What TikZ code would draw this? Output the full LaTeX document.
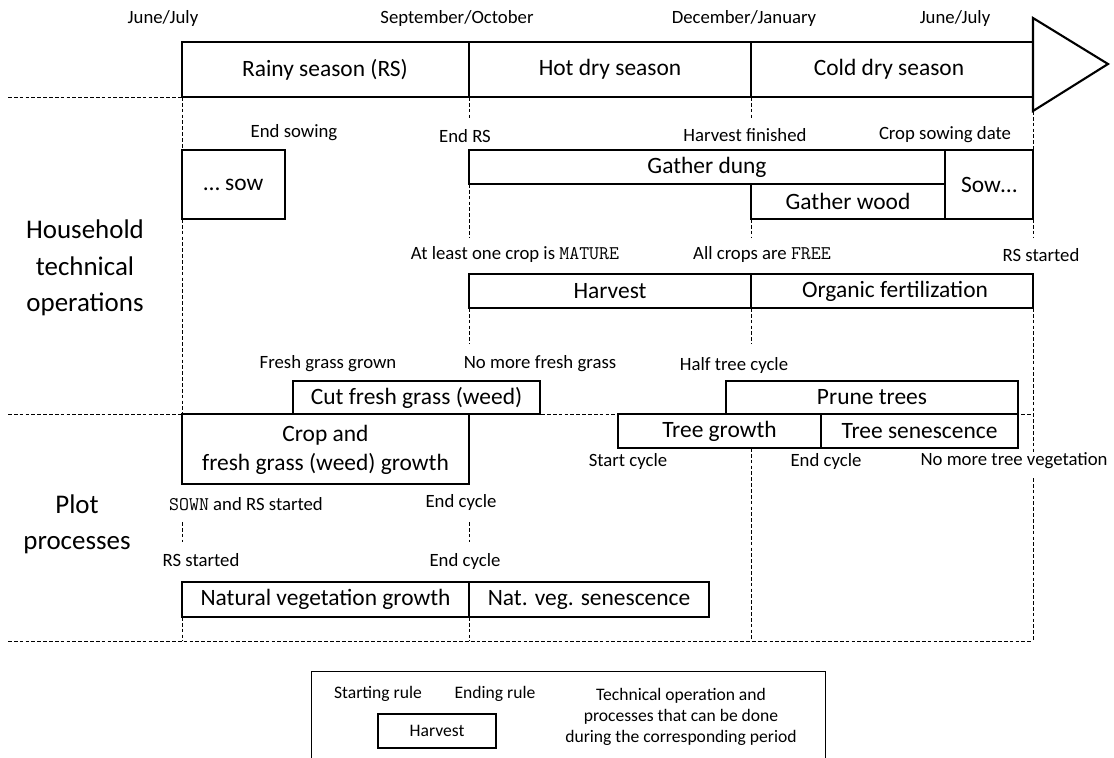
\documentclass[tikz,border=0pt]{standalone}
\usepackage{fontspec}
\setmainfont{Carlito}
\newcommand{\code}[1]{{\fontsize{16.5}{19}\ttfamily #1}}
\begin{document}
\begin{tikzpicture}[x=0.03cm,y=-0.03cm,
        rule/.style={font=\fontsize{16}{19}\selectfont, inner sep=0pt},
        period/.style={font=\fontsize{20}{24}\selectfont, inner sep=0pt, align=center},
        side/.style={font=\fontsize{23}{31}\selectfont, inner sep=0pt, align=center},
        legtext/.style={font=\fontsize{15}{18}\selectfont, inner sep=0pt, align=center},
        opbox/.style={draw, line width=1.1pt},
        guide/.style={line width=0.7pt, dash pattern=on 3.2pt off 1.8pt}]
    \useasboundingbox (0,0) rectangle (1114,758);
    \clip (0,0) rectangle (1114,758);

    % Seasons bar
    \draw[line width=2.2pt] (182,42) rectangle (1033,97);
    \draw[line width=2.2pt] (469,42) -- (469,97) (751,42) -- (751,97);
    \draw[line width=1.8pt, line join=miter] (1033,18) -- (1108,64) -- (1033,111) -- cycle;
    \node[period] (rainy) at (325,69.5) {Rainy season (RS)};
    \node[period] (hotdry) at (610,69.5) {Hot dry season};
    \node[period] (colddry) at (889,69.5) {Cold dry season};

    % Months
    \node[rule] (jun1) at (163,19) {June/July};
    \node[rule] (sepoct) at (457,19) {September/October};
    \node[rule] (decjan) at (744,19) {December/January};
    \node[rule] (jun2) at (955,19) {June/July};

    % Section separators
    \draw[guide] (8,97) -- (182,97);
    \draw[guide] (8,414) -- (1033,414);
    \draw[guide] (8,641) -- (1033,641);

    % Period guides
    \foreach \x/\ya/\yb in {182/97/150, 182/219/414, 182/522/542, 182/617/641,
            469/97/120, 469/184/237, 469/308/344, 469/522/542, 469/617/641,
            751/97/120, 751/219/237, 751/308/344, 751/448/641,
            1033/111/150, 1033/219/237, 1033/308/452, 1033/478/641}
        \draw[guide] (\x,\ya) -- (\x,\yb);

    % Section titles
    \node[side] (household) at (85,268) {Household\\technical\\operations};
    \node[side] (plot) at (77,524) {Plot\\processes};

    % Household technical operations
    \node[rule] (endsow) at (294,133) {End sowing};
    \node[rule] (endrs) at (465,136) {End RS};
    \node[rule] (harvfin) at (745,135) {Harvest finished};
    \node[rule] (sowdate) at (945,135) {Crop sowing date};
    \draw[opbox] (182,150) rectangle (285,219);
    \node[period] (sowend) at (233.5,184.5) {… sow};
    \draw[opbox] (469,150) rectangle (945,184);
    \node[period] (dung) at (707,167) {Gather dung};
    \draw[opbox] (751,184) rectangle (945,219);
    \node[period] (wood) at (848,201.5) {Gather wood};
    \draw[opbox] (945,150) rectangle (1033,219);
    \node[period] (sowstart) at (989,184.5) {Sow…};

    \node[rule] (mature) at (515,255) {At least one crop is \code{MATURE}};
    \node[rule] (free) at (762,255) {All crops are \code{FREE}};
    \node[rule] (rsstart1) at (1041,255) {RS started};
    \draw[opbox] (469,274) rectangle (751,308);
    \node[period] (harvest) at (610,291) {Harvest};
    \draw[opbox] (751,274) rectangle (1033,308);
    \node[period] (fert) at (895,291) {Organic fertilization};

    \node[rule] (grassgrown) at (328,364) {Fresh grass grown};
    \node[rule] (nograss) at (540,364) {No more fresh grass};
    \node[rule] (halftree) at (734,365) {Half tree cycle};
    \draw[opbox] (293,381) rectangle (540,414);
    \node[period] (cut) at (416.5,397.5) {Cut fresh grass (weed)};
    \draw[opbox] (726,381) rectangle (1018,414);
    \node[period] (prune) at (872,397.5) {Prune trees};

    % Plot processes
    \draw[opbox] (182,414) rectangle (469,484);
    \node[period, font=\fontsize{20}{24.5}\selectfont] (cropgrowth) at (325.5,450) {Crop and\\fresh grass (weed) growth};
    \draw[opbox] (618,414) rectangle (821,448);
    \node[period] (treegrowth) at (719.5,431) {Tree growth};
    \draw[opbox] (821,414) rectangle (1018,448);
    \node[period] (treesen) at (919.5,431) {Tree senescence};
    \node[rule] (startcycle) at (628,461) {Start cycle};
    \node[rule] (endcycle1) at (826,461) {End cycle};
    \node[rule] (notree) at (1014,461) {No more tree vegetation};

    \node[rule] (sown) at (246,504) {\code{SOWN} and RS started};
    \node[rule] (endcycle2) at (461,502) {End cycle};
    \node[rule] (rsstart2) at (201,560) {RS started};
    \node[rule] (endcycle3) at (465,561) {End cycle};
    \draw[opbox] (182,582) rectangle (469,617);
    \node[period] (natgrowth) at (325.5,599.5) {Natural vegetation growth};
    \draw[opbox] (469,582) rectangle (709,617);
    \node[period] (natsen) at (589,599.5) {Nat. veg. senescence};

    % Legend
    \draw[line width=0.7pt] (311,671) rectangle (825,780);
    \node[legtext] (startrule) at (378,694) {Starting rule};
    \node[legtext] (endrule) at (495,694) {Ending rule};
    \draw[line width=0.9pt] (378,714) rectangle (496,748);
    \node[legtext] (legharvest) at (437,731) {Harvest};
    \node[legtext] (legnote) at (681,717) {Technical operation and\\processes that can be done\\during the corresponding period};
\end{tikzpicture}
\end{document}
